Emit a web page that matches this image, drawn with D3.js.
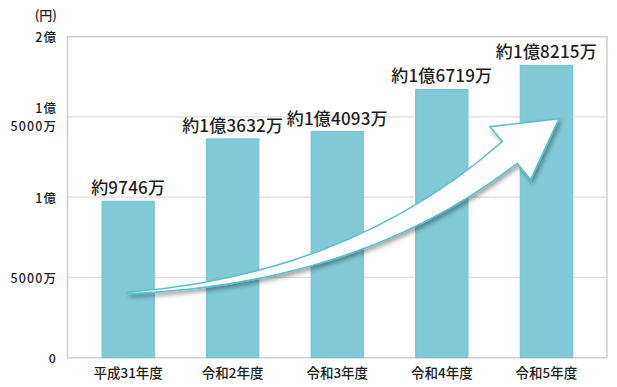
<!DOCTYPE html>
<html><head><meta charset="utf-8">
<script src="https://cdn.jsdelivr.net/npm/d3@7"></script>
<style>
html,body{margin:0;padding:0;background:#fff;}
text{font-family:"Noto Sans CJK JP","Noto Sans",sans-serif;fill:#1e1e1e;}
</style></head>
<body><svg id="c" width="617" height="387"></svg>
<script>
const categories = ["平成31年度","令和2年度","令和3年度","令和4年度","令和5年度"];
const values = [97460000, 136320000, 140930000, 167190000, 182150000];
const valueLabels = ["約9746万","約1億3632万","約1億4093万","約1億6719万","約1億8215万"];
const yTicks = [0, 50000000, 100000000, 150000000, 200000000];
const yTickLabels = [["0"],["5000万"],["1億"],["1億","5000万"],["2億"]];
const unitLabel = "(円)";

const svg = d3.select("#c");
const L = 67.5, R = 607, T = 36.7, B = 357.7;
const x = d3.scaleBand().domain(categories).range([L, R]).paddingInner(0.5).paddingOuter(0.33);
const y = d3.scaleLinear().domain([0, 200000000]).range([B, T]);

const defs = svg.append("defs");
const f = defs.append("filter").attr("id","sh").attr("x","-20%").attr("y","-20%").attr("width","140%").attr("height","150%");
f.append("feDropShadow").attr("dx",2).attr("dy",3).attr("stdDeviation",2.2).attr("flood-color","#000").attr("flood-opacity",0.35);

// gridlines
svg.append("g").selectAll("line").data(yTicks.filter(d => d > 0 && d < 200000000)).join("line")
  .attr("x1", L).attr("x2", R).attr("y1", d => y(d)).attr("y2", d => y(d))
  .attr("stroke", "#dedede").attr("stroke-width", 1.2);

// frame
svg.append("rect").attr("x", L).attr("y", T).attr("width", R - L).attr("height", B - T)
  .attr("fill", "none").attr("stroke", "#cfcfcf").attr("stroke-width", 1.5);

// bars
svg.append("g").selectAll("rect").data(values).join("rect")
  .attr("x", (d,i) => x(categories[i])).attr("width", x.bandwidth())
  .attr("y", d => y(d)).attr("height", d => B - y(d))
  .attr("fill", "#81cad6").attr("stroke", "#74c3d0").attr("stroke-width", 1);

// value labels
svg.append("g").selectAll("text").data(values).join("text")
  .attr("x", (d,i) => x(categories[i]) + x.bandwidth()/2)
  .attr("y", d => y(d) - 7)
  .attr("text-anchor", "middle").attr("font-size", 17).attr("font-weight", 500)
  .attr("letter-spacing", 0.2)
  .text((d,i) => valueLabels[i]);

// y tick labels (one text element per line)
const yLines = [];
yTicks.forEach((t,i) => {
  const n = yTickLabels[i].length;
  yTickLabels[i].forEach((s,j) => yLines.push({v: t, s: s, off: (j - (n - 1) / 2) * 18}));
});
svg.append("g").selectAll("text").data(yLines).join("text")
  .attr("text-anchor", "end").attr("font-size", 12.5).attr("font-weight", 500)
  .attr("letter-spacing", 1.1)
  .attr("x", 57).attr("y", d => y(d.v) + d.off)
  .attr("dominant-baseline", "central")
  .text(d => d.s);

svg.append("text").attr("x", 57).attr("y", 14).attr("text-anchor","end")
  .attr("dominant-baseline","central").attr("font-size", 13).attr("font-weight", 500).text(unitLabel);

// x labels
svg.append("g").selectAll("text").data(categories).join("text")
  .attr("x", d => x(d) + x.bandwidth()/2).attr("y", 372)
  .attr("text-anchor", "middle").attr("dominant-baseline","central").attr("font-size", 13.5)
  .attr("font-weight", 500)
  .text(d => d);

// decorative arrow (positions expressed in band-index / value units)
const step = x.step(), c0 = x(categories[0]) + x.bandwidth()/2;
const px = i => c0 + i * step;
const P = (i, v) => [px(i), y(v)];
const tail = P(-0.005, 40800000);
const notchL = P(3.58, 134700000), barbL = P(3.46, 143900000), tip = P(4.12, 148900000);
const barbR = P(3.85, 110900000), notchR = P(3.72, 121100000);
const cU = P(2.13, 51700000), cL = P(2.22, 45500000);
const path = d3.path();
path.moveTo(...tail);
path.quadraticCurveTo(...cU, ...notchL);
path.lineTo(...barbL);
path.lineTo(...tip);
path.lineTo(...barbR);
path.lineTo(...notchR);
path.quadraticCurveTo(...cL, tail[0], tail[1] + 1.5);
path.closePath();
svg.append("path").attr("d", path.toString())
  .attr("fill", "#fff").attr("stroke", "#5bbfcd").attr("stroke-width", 1.6)
  .attr("stroke-linejoin", "miter").attr("filter", "url(#sh)");
</script></body></html>
